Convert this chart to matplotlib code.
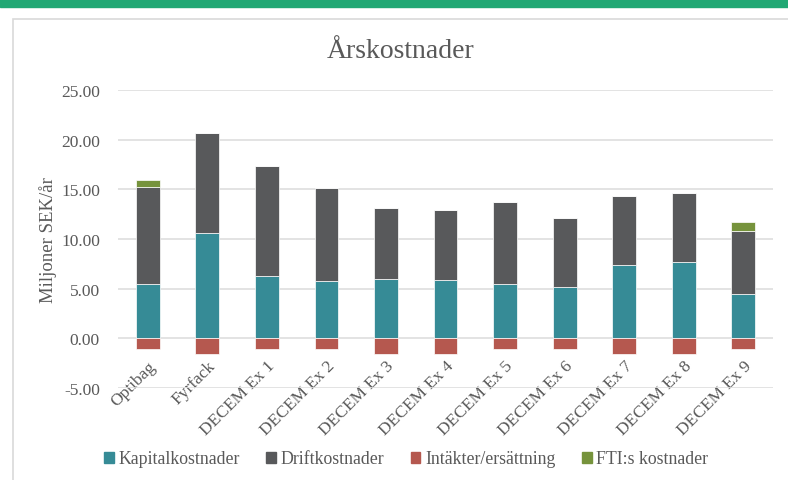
import matplotlib
matplotlib.use("Agg")
import matplotlib.pyplot as plt
from matplotlib.patches import Rectangle, Patch

# Data (miljoner SEK/år)
categories = ["Optibag", "Fyrfack", "DECEM Ex 1", "DECEM Ex 2", "DECEM Ex 3",
              "DECEM Ex 4", "DECEM Ex 5", "DECEM Ex 6", "DECEM Ex 7",
              "DECEM Ex 8", "DECEM Ex 9"]
kapital = [5.46, 10.60, 6.30, 5.80, 5.97, 5.87, 5.46, 5.20, 7.37, 7.64, 4.43]
drift = [9.79, 10.10, 11.07, 9.30, 7.13, 7.07, 8.29, 6.94, 6.98, 6.95, 6.40]
intakter = [-1.10, -1.55, -1.10, -1.10, -1.55, -1.55, -1.10, -1.10, -1.55, -1.55, -1.10]
fti = [0.71, 0, 0, 0, 0, 0, 0, 0, 0, 0, 0.90]
yticks = [-5, 0, 5, 10, 15, 20, 25]

c_kap = "#368b96"
c_drift = "#58595b"
c_int = "#b5584f"
c_fti = "#76933c"
txt = "#595959"

plt.rcParams["font.family"] = ["Liberation Serif", "DejaVu Serif"]

fig = plt.figure(figsize=(7.88, 4.81), dpi=100)

# grön rand överst och kortets ram
fig.patches.append(Rectangle((0, 1 - 7.5 / 481), 1, 7.5 / 481, transform=fig.transFigure,
                             color="#21a874", zorder=-2))
fig.patches.append(Rectangle((13 / 788, -0.05), 1.0, 1 - 20 / 481 + 0.05, transform=fig.transFigure,
                             facecolor="white", edgecolor="#d9d9d9", lw=1.2, zorder=-2))

ax = fig.add_axes([118 / 788, 1 - 389 / 481, (773 - 118) / 788, (389 - 91) / 481])
ax.set_facecolor("none")

x = range(len(categories))
w = 0.4
kw = dict(width=w, edgecolor="white", linewidth=0.5, zorder=3)
ax.bar(x, kapital, color=c_kap, **kw)
ax.bar(x, drift, bottom=kapital, color=c_drift, **kw)
bot3 = [k + d for k, d in zip(kapital, drift)]
ax.bar(x, fti, bottom=bot3, color=c_fti, **kw)
ax.bar(x, intakter, color=c_int, **kw)

ax.set_ylim(-5, 25)
ax.set_xlim(-0.5, len(categories) - 0.5)
ax.set_yticks(yticks)
ax.set_yticklabels([f"{v:.2f}" for v in yticks], color=txt, fontsize=12.5)
ax.yaxis.grid(True, color="#dedede", lw=1.2, zorder=0)
ax.tick_params(axis="y", length=0, pad=13)

ax.spines["bottom"].set_position(("data", 0))
for s in ax.spines.values():
    s.set_visible(False)
ax.set_xticks(list(x))
ax.set_xticklabels(categories, rotation=45, ha="right", rotation_mode="anchor",
                   color=txt, fontsize=12.5)
ax.tick_params(axis="x", length=0, pad=14)

ax.set_ylabel("Miljoner SEK/år", color=txt, fontsize=13.5, labelpad=3)

fig.text(0.508, 1 - 52 / 481, "Årskostnader", ha="center", va="center",
         fontsize=20, color=txt)

handles = [Patch(color=c_kap, label="Kapitalkostnader"),
           Patch(color=c_drift, label="Driftkostnader"),
           Patch(color=c_int, label="Intäkter/ersättning"),
           Patch(color=c_fti, label="FTI:s kostnader")]
leg = fig.legend(handles=handles, loc="center", bbox_to_anchor=(406 / 788, 1 - 460 / 481),
                 ncol=4, frameon=False, fontsize=12.8, handlelength=0.55, handleheight=0.55,
                 handletextpad=0.25, columnspacing=1.5)
for t in leg.get_texts():
    t.set_color(txt)

fig.savefig("out.png", dpi=100)
